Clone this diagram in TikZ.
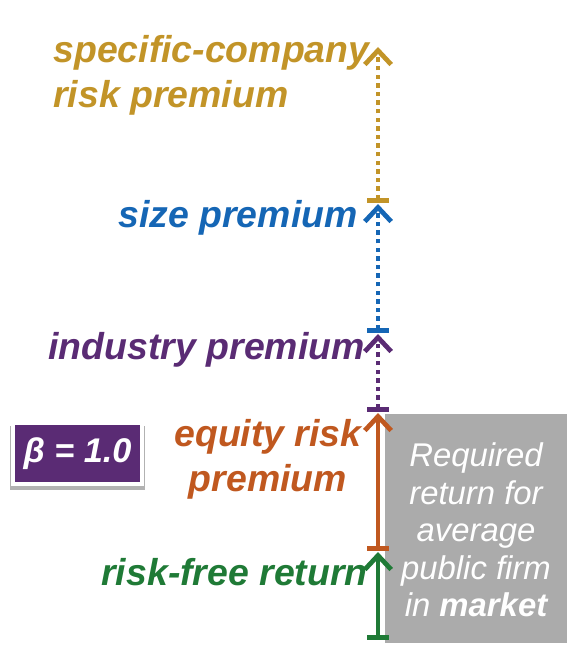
\documentclass[tikz,border=0pt]{standalone}
\usepackage{fontspec}
\setmainfont{Liberation Sans}
\usetikzlibrary{arrows.meta,shadows}

\definecolor{goldc}{HTML}{C29428}
\definecolor{bluec}{HTML}{1566B5}
\definecolor{purplec}{HTML}{5A2B74}
\definecolor{orangec}{HTML}{C0581F}
\definecolor{greenc}{HTML}{1F7A36}
\definecolor{boxgray}{HTML}{ABABAB}

\tikzset{
  lbl/.style={font=\fontsize{21.3}{25.5}\selectfont\bfseries\itshape, inner sep=0pt},
  seg/.style={line width=2.7pt,
    {Bar[width=12pt,line width=2.7pt]}-{Straight Barb[length=8pt,width=15pt,line width=2.7pt]}},
  dotseg/.style={seg, dash pattern=on 2.5pt off 2.4pt}
}

\begin{document}
\begin{tikzpicture}[x=0.02cm, y=-0.02cm]
\useasboundingbox (0,0) rectangle (576,669);

% Gray box
\fill[boxgray] (385,414) rectangle (567,643);
\node[text=white, align=center, inner sep=0pt,
  font=\fontsize{18.7}{21.3}\selectfont\itshape] (market) at (476,530)
  {Required\\return for\\average\\public firm\\in \textbf{market}};

% Levels
\coordinate (r0) at (378,640);
\coordinate (r1) at (378,552);
\coordinate (e0) at (378,551);
\coordinate (e1) at (378,413);
\coordinate (i0) at (378,412);
\coordinate (i1) at (378,334);
\coordinate (s0) at (378,333);
\coordinate (s1) at (378,204);
\coordinate (c0) at (378,203);
\coordinate (c1) at (378,47);

% Arrows
\draw[seg, greenc] (r0) -- (r1);
\draw[seg, orangec] (e0) -- (e1);
\draw[dotseg, purplec] (i0) -- (i1);
\draw[dotseg, bluec] (s0) -- (s1);
\draw[dotseg, goldc] (c0) -- (c1);

% Labels
\node[lbl, text=goldc, align=left, anchor=west] (company) at (53,75)
  {specific-company\\risk premium};
\node[lbl, text=bluec, anchor=east] (size) at (358,218) {size premium};
\node[lbl, text=purplec, anchor=east] (industry) at (365,350) {industry premium};
\node[lbl, text=orangec, align=center] (equity) at (268,459)
  {equity risk\\premium};
\node[lbl, text=greenc, anchor=east] (riskfree) at (368,572) {risk-free return};

% Beta
\node[fill=purplec, draw=white, line width=2.5pt, text=white,
  minimum width=2.58cm, minimum height=1.22cm,
  general shadow={fill=black, opacity=0.3, shadow scale=1.05, shadow yshift=-2.5pt},
  font=\fontsize{19.5}{22}\selectfont\bfseries\itshape] (beta) at (77.5,453.5)
  {β = 1.0};

\end{tikzpicture}
\end{document}
